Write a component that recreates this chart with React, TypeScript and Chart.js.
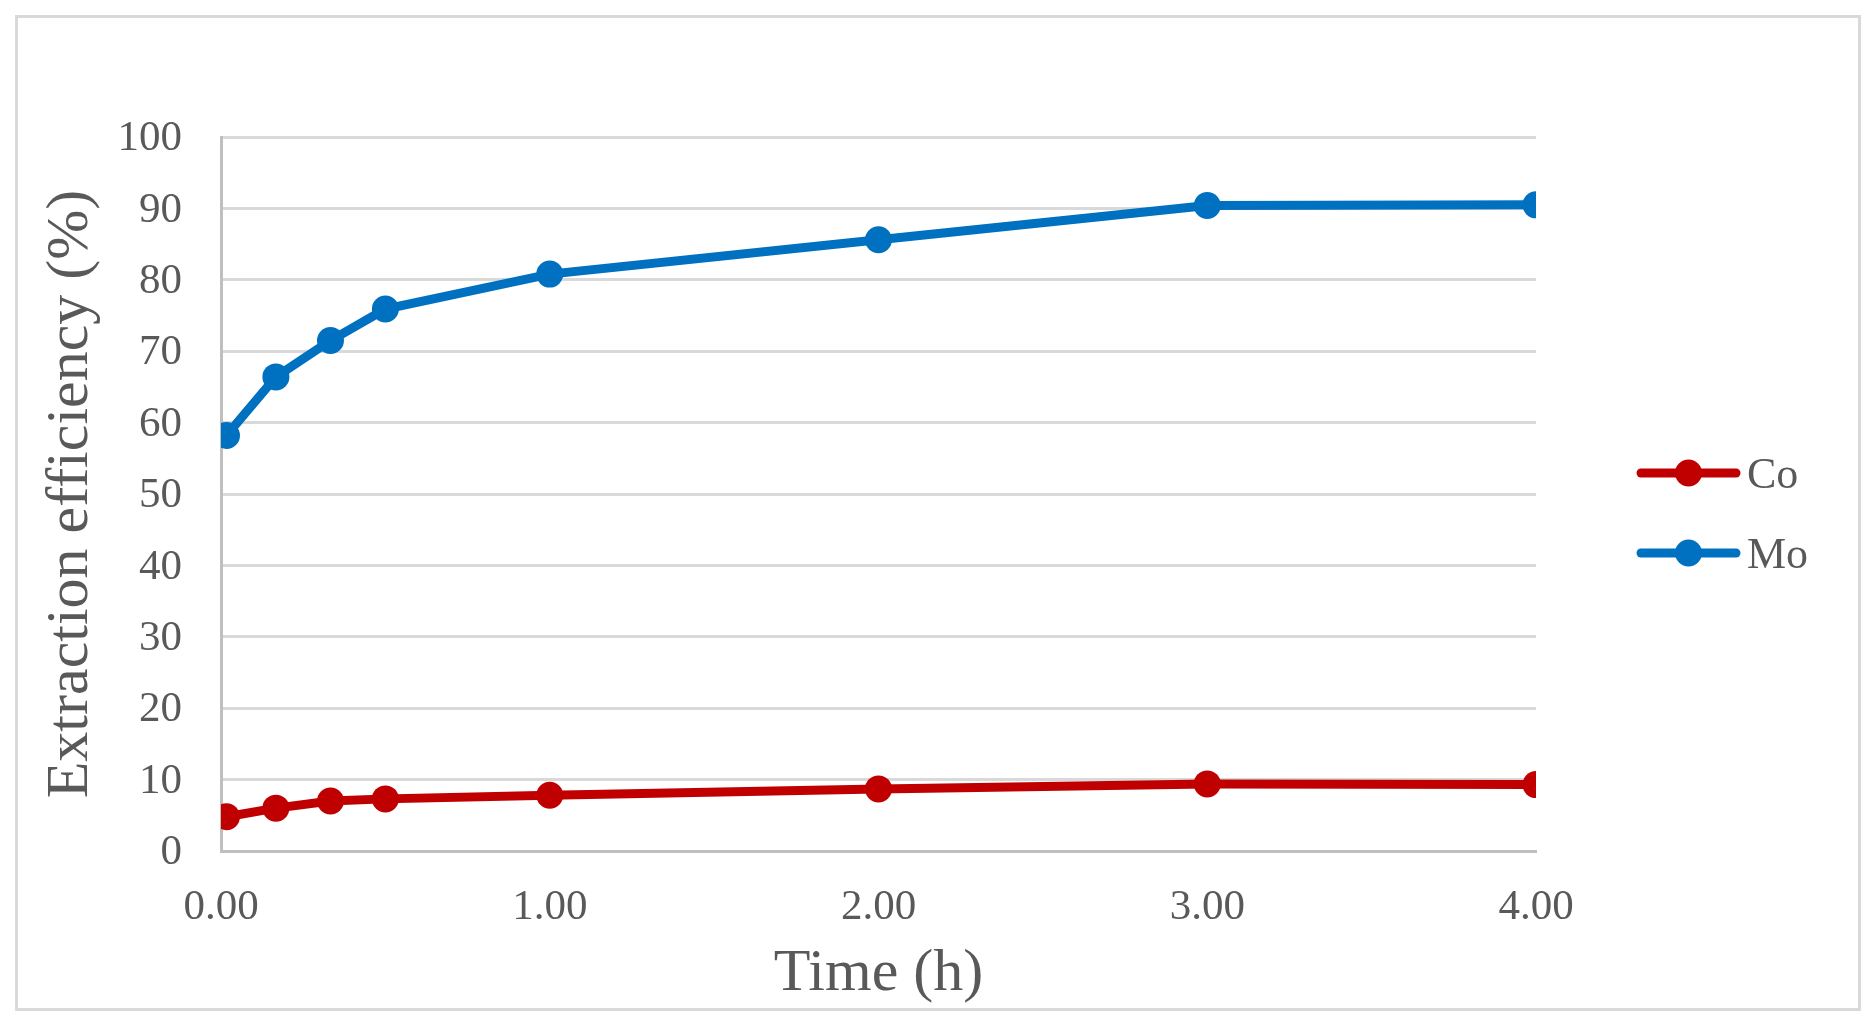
import { useEffect, useRef } from "react";
import { Chart, registerables } from "chart.js";
import type { ChartConfiguration, Plugin } from "chart.js";

Chart.register(...registerables);

// sampling times in hours (first sample at ~1 min)
const timesH = [0.0167, 0.167, 0.333, 0.5, 1, 2, 3, 4];
const coEfficiency = [4.8, 6.0, 7.0, 7.3, 7.8, 8.7, 9.4, 9.3];
const moEfficiency = [58.2, 66.4, 71.5, 75.9, 80.8, 85.6, 90.4, 90.5];
const seriesNames = ["Co", "Mo"];

const FONT = '"Liberation Serif", "Times New Roman", serif';
const TEXT = "#595959";

// Excel-style legend: short line with a dot in the middle, label to the right
const sideLegend: Plugin<"line"> = {
  id: "sideLegend",
  afterDraw(chart) {
    const { ctx } = chart;
    const x0 = 1641;
    const x1 = 1736;
    const startY = 473;
    const gap = 80;
    ctx.save();
    chart.data.datasets.forEach((ds, i) => {
      const y = startY + i * gap;
      const color = ds.borderColor as string;
      ctx.strokeStyle = color;
      ctx.lineWidth = 9;
      ctx.lineCap = "round";
      ctx.beginPath();
      ctx.moveTo(x0, y);
      ctx.lineTo(x1, y);
      ctx.stroke();
      ctx.fillStyle = color;
      ctx.beginPath();
      ctx.arc((x0 + x1) / 2, y, 13.5, 0, Math.PI * 2);
      ctx.fill();
      ctx.fillStyle = TEXT;
      ctx.font = `44px ${FONT}`;
      ctx.textAlign = "left";
      ctx.textBaseline = "alphabetic";
      ctx.fillText(ds.label ?? "", 1747, y + 15);
    });
    ctx.restore();
  },
};

export default function App() {
  const canvasRef = useRef<HTMLCanvasElement | null>(null);

  useEffect(() => {
    if (!canvasRef.current) return;

    const config: ChartConfiguration<"line"> = {
      type: "line",
      data: {
        datasets: [
          {
            label: seriesNames[0],
            data: timesH.map((t, i) => ({ x: t, y: coEfficiency[i] })),
            borderColor: "#C00000",
            backgroundColor: "#C00000",
            borderWidth: 9,
            pointRadius: 13.5,
            pointBorderWidth: 0,
            tension: 0,
          },
          {
            label: seriesNames[1],
            data: timesH.map((t, i) => ({ x: t, y: moEfficiency[i] })),
            borderColor: "#0070C0",
            backgroundColor: "#0070C0",
            borderWidth: 9,
            pointRadius: 13.5,
            pointBorderWidth: 0,
            tension: 0,
          },
        ],
      },
      options: {
        responsive: false,
        animation: false,
        devicePixelRatio: 1,
        layout: { padding: { left: 0, top: 137, right: 340, bottom: 0 } },
        plugins: {
          legend: { display: false },
          tooltip: { enabled: false },
        },
        scales: {
          x: {
            type: "linear",
            min: 0,
            max: 4,
            afterFit: (s) => {
              s.height = 175;
            },
            grid: { display: false, drawTicks: false },
            border: { display: true, color: "#BFBFBF", width: 3 },
            ticks: {
              stepSize: 1,
              padding: 31,
              color: TEXT,
              font: { family: FONT, size: 43 },
              callback: (v) => Number(v).toFixed(2),
            },
            title: {
              display: true,
              text: "Time (h)",
              color: TEXT,
              font: { family: FONT, size: 60 },
              padding: { top: 0, bottom: 16 },
            },
          },
          y: {
            min: 0,
            max: 100,
            afterFit: (s) => {
              s.width = 221;
            },
            grid: { color: "#D9D9D9", lineWidth: 3, drawTicks: false },
            border: { display: true, color: "#BFBFBF", width: 3 },
            ticks: {
              stepSize: 10,
              padding: 39,
              labelOffset: 2,
              color: TEXT,
              font: { family: FONT, size: 43 },
            },
            title: {
              display: true,
              text: "Extraction efficiency (%)",
              color: TEXT,
              font: { family: FONT, size: 60 },
              padding: { top: 35, bottom: 0 },
            },
          },
        },
      },
      plugins: [sideLegend],
    };

    const chart = new Chart(canvasRef.current, config);
    return () => {
      chart.destroy();
    };
  }, []);

  return (
    <div style={{ position: "absolute", left: 0, top: 0, width: 1876, height: 1026, background: "#fff" }}>
      <canvas ref={canvasRef} width={1876} height={1026} style={{ width: 1876, height: 1026, display: "block" }} />
      <div
        style={{
          position: "absolute",
          left: 15,
          top: 15,
          width: 1846,
          height: 996,
          border: "3px solid #D9D9D9",
          boxSizing: "border-box",
          pointerEvents: "none",
        }}
      />
    </div>
  );
}
